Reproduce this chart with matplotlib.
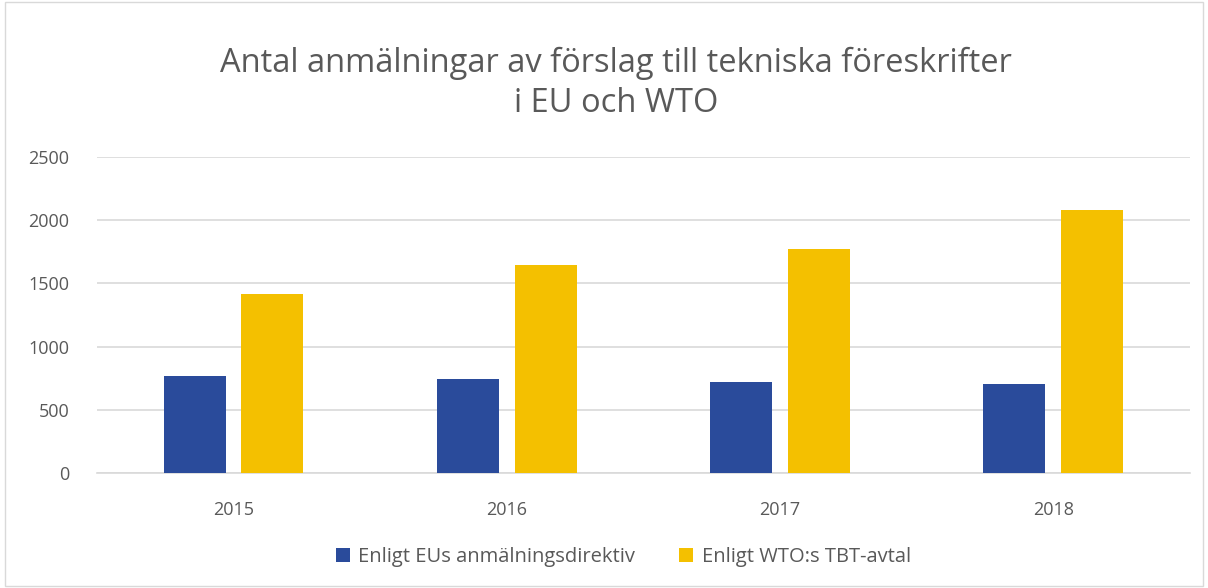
import matplotlib.pyplot as plt
from matplotlib.patches import Rectangle
import numpy as np

years = ['2015', '2016', '2017', '2018']
eu = [771, 747, 718, 707]
wto = [1414, 1643, 1770, 2079]

plt.rcParams['font.family'] = ['Open Sans', 'DejaVu Sans']
grey = '#595959'

fig = plt.figure(figsize=(12.08, 5.88), dpi=100)
ax = fig.add_axes([0.0803, 0.1956, 0.9047, 0.5374])

x = np.arange(len(years))
w = 0.227
ax.bar(x - 0.142, eu, w, color='#2A4B9B', label='Enligt EUs anmälningsdirektiv', zorder=3)
ax.bar(x + 0.142, wto, w, color='#F4C000', label='Enligt WTO:s TBT-avtal', zorder=3)

ax.set_xlim(-0.5, 3.5)
ax.set_ylim(0, 2500)
ax.set_yticks(range(0, 2501, 500))
ax.set_xticks(x)
ax.set_xticklabels(years)
ax.grid(axis='y', color='#D9D9D9', linewidth=1.2, zorder=0)
for s in ['top', 'right', 'left']:
    ax.spines[s].set_visible(False)
ax.spines['bottom'].set_color('#D9D9D9')
ax.spines['bottom'].set_linewidth(1.2)
ax.tick_params(length=0, labelsize=13, colors=grey)
ax.tick_params(axis='x', pad=20)
ax.tick_params(axis='y', pad=20)

fig.suptitle('Antal anmälningar av förslag till tekniska föreskrifter\ni EU och WTO',
             x=0.51, y=0.92, fontsize=23.5, color=grey, linespacing=1.25)

fig.legend(loc='center', bbox_to_anchor=(0.516, 0.053), ncol=2, frameon=False,
           fontsize=14.5, labelcolor=grey, handlelength=0.7, handleheight=0.7,
           columnspacing=2.2, handletextpad=0.4)

fig.patches.append(Rectangle((0.004, 0.004), 0.992, 0.992, transform=fig.transFigure,
                             fill=False, edgecolor='#D9D9D9', linewidth=1))

fig.savefig('out.png', dpi=100)
